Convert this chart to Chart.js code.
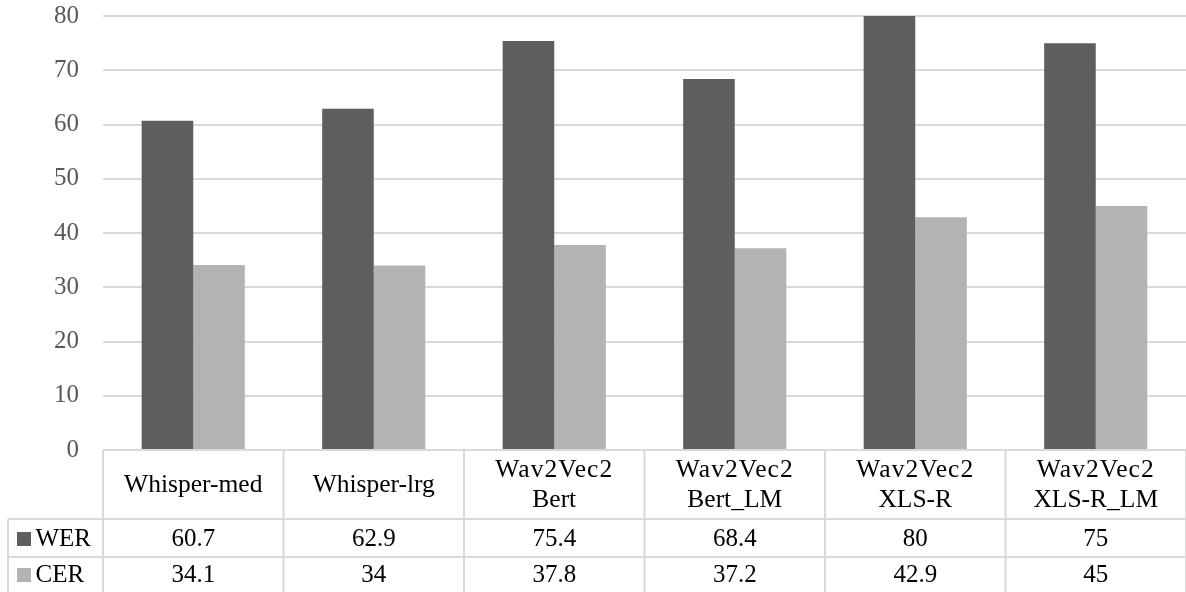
<!DOCTYPE html>
<html>
<head>
<meta charset="utf-8">
<script src="https://cdn.jsdelivr.net/npm/chart.js@4.4.1/dist/chart.umd.min.js"></script>
<style>
  html, body { margin: 0; padding: 0; background: #ffffff; }
  #wrap { width: 1186px; height: 592px; position: relative; }
  .pre { font-family: 'Liberation Serif'; position: absolute; left: -9999px; }
</style>
</head>
<body>
<span class="pre">Wav2Vec2 0123456789</span>
<div id="wrap"><canvas id="c" width="1186" height="592"></canvas></div>
<script>
const categories = [
  ["Whisper-med"],
  ["Whisper-lrg"],
  ["Wav2Vec2", "Bert"],
  ["Wav2Vec2", "Bert_LM"],
  ["Wav2Vec2", "XLS-R"],
  ["Wav2Vec2", "XLS-R_LM"]
];
const werValues = [60.7, 62.9, 75.4, 68.4, 80, 75];
const cerValues = [34.1, 34, 37.8, 37.2, 42.9, 45];
const werLabels = ["60.7", "62.9", "75.4", "68.4", "80", "75"];
const cerLabels = ["34.1", "34", "37.8", "37.2", "42.9", "45"];
const seriesNames = ["WER", "CER"];
const seriesColors = ["#5e5e5e", "#b3b3b3"];

const FONT = "'Liberation Serif', 'Times New Roman', 'DejaVu Serif', serif";
const GRID = "#d9d9d9";

const tablePlugin = {
  id: 'dataTable',
  afterDraw(chart) {
    const ctx = chart.ctx;
    const area = chart.chartArea;
    const xs = chart.scales.x;
    const n = categories.length;
    const colW = (area.right - area.left) / n;
    const top = area.bottom;
    const headerBottom = top + 69;
    const row1Bottom = headerBottom + 38;
    const row2Bottom = chart.height + 2;
    const legendLeft = 8;
    ctx.save();
    ctx.strokeStyle = GRID;
    ctx.lineWidth = 2;
    ctx.beginPath();
    ctx.moveTo(area.left, top); ctx.lineTo(area.right, top);
    ctx.moveTo(legendLeft, headerBottom); ctx.lineTo(area.right, headerBottom);
    ctx.moveTo(legendLeft, row1Bottom); ctx.lineTo(area.right, row1Bottom);
    ctx.moveTo(legendLeft, headerBottom); ctx.lineTo(legendLeft, row2Bottom);
    for (let i = 0; i <= n; i++) {
      const x = (i < n ? xs.getPixelForValue(i) - colW / 2 : xs.getPixelForValue(n - 1) + colW / 2);
      ctx.moveTo(x, top); ctx.lineTo(x, row2Bottom);
    }
    ctx.stroke();

    ctx.fillStyle = "#000000";
    ctx.textAlign = "center";
    ctx.textBaseline = "middle";
    const hMid = (top + headerBottom) / 2 + 1;
    const r1Mid = (headerBottom + row1Bottom) / 2 + 1;
    const r2Mid = row1Bottom + 18;
    for (let i = 0; i < n; i++) {
      const cx = xs.getPixelForValue(i);
      const lines = categories[i];
      ctx.font = "25.5px " + FONT;
      if (lines.length === 1) {
        ctx.letterSpacing = "0px";
        ctx.fillText(lines[0], cx, hMid);
      } else {
        ctx.letterSpacing = "1px";
        ctx.fillText(lines[0], cx, hMid - 15);
        ctx.letterSpacing = "0px";
        ctx.fillText(lines[1], cx, hMid + 15);
      }
      ctx.letterSpacing = "0px";
      ctx.font = "25px " + FONT;
      ctx.fillText(werLabels[i], cx, r1Mid);
      ctx.fillText(cerLabels[i], cx, r2Mid);
    }
    ctx.textAlign = "left";
    ctx.font = "25px " + FONT;
    const mids = [r1Mid, r2Mid];
    for (let s = 0; s < 2; s++) {
      ctx.fillStyle = seriesColors[s];
      ctx.fillRect(17, mids[s] - 7, 14, 14);
      ctx.fillStyle = "#000000";
      ctx.fillText(seriesNames[s], 35.5, mids[s]);
    }
    ctx.restore();
  }
};

function build() {
  new Chart(document.getElementById('c'), {
    type: 'bar',
    data: {
      labels: categories.map(c => c.join(' ')),
      datasets: [
        { label: seriesNames[0], data: werValues, backgroundColor: seriesColors[0], borderWidth: 0 },
        { label: seriesNames[1], data: cerValues, backgroundColor: seriesColors[1], borderWidth: 0 }
      ]
    },
    options: {
      responsive: false,
      animation: false,
      events: [],
      layout: { padding: { top: 16, bottom: 142, left: 0, right: 0 } },
      datasets: { bar: { categoryPercentage: 2 / 3.5, barPercentage: 1 } },
      plugins: { legend: { display: false }, tooltip: { enabled: false } },
      scales: {
        x: { display: false },
        y: {
          min: 0, max: 80,
          afterFit(scale) { scale.width = 103; scale.paddingTop = 0; scale.paddingBottom = 0; },
          border: { display: false },
          grid: { color: GRID, lineWidth: 2, drawTicks: false },
          ticks: {
            stepSize: 10,
            padding: 24,
            color: "#595959",
            font: { family: FONT, size: 25 }
          }
        }
      }
    },
    plugins: [tablePlugin]
  });
}

if (document.fonts && document.fonts.load) {
  document.fonts.load("25px 'Liberation Serif'").then(build, build);
} else {
  build();
}
</script>
</body>
</html>
